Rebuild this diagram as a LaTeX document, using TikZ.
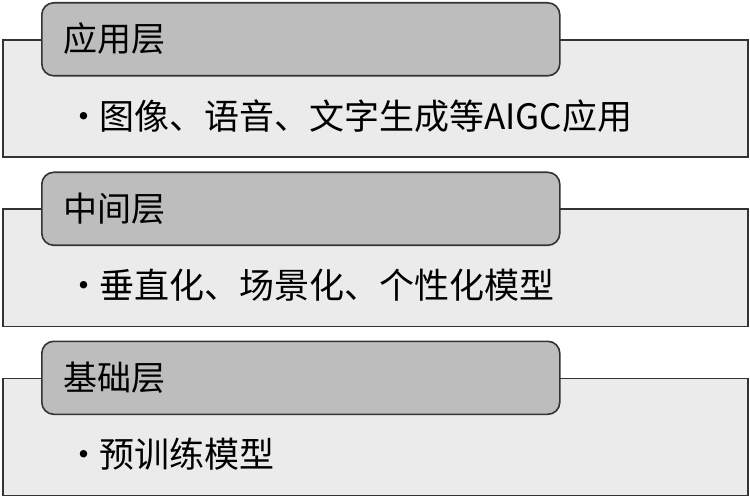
\documentclass[tikz,border=0pt]{standalone}
\usepackage{fontspec}
\setmainfont{Noto Sans CJK SC}
\begin{document}
\begin{tikzpicture}[x=1pt,y=-1pt,
  layerbox/.style={draw=black!80,line width=1.6pt,fill=black!8},
  tabbox/.style={draw=black!80,line width=1.6pt,fill=black!26,rounded corners=12pt},
  tabtext/.style={anchor=west,font=\fontsize{34}{34}\selectfont,inner sep=0pt},
  bodytext/.style={anchor=west,font=\fontsize{35}{35}\selectfont,inner sep=0pt}]
\useasboundingbox (0,0) rectangle (750,497);
\foreach \i/\oy/\t/\b in {1/0/应用层/{·\hspace{-2pt}图像、语音、文字生成等AIGC应用},2/169.5/中间层/{·\hspace{-2pt}垂直化、场景化、个性化模型},3/338.5/基础层/{·\hspace{-2pt}预训练模型}}{
  \node[layerbox,minimum width=745pt,minimum height=117pt,inner sep=0pt,anchor=north west] (box\i) at (2,39+\oy) {};
  \node[tabbox,minimum width=518pt,minimum height=73pt,inner sep=0pt,anchor=north west] (tab\i) at (41,2+\oy) {};
  \node[tabtext] (tt\i) at (63,39+\oy) {\t};
  \node[bodytext] (bt\i) at (66,116+\oy) {\b};
}
\end{tikzpicture}
\end{document}
